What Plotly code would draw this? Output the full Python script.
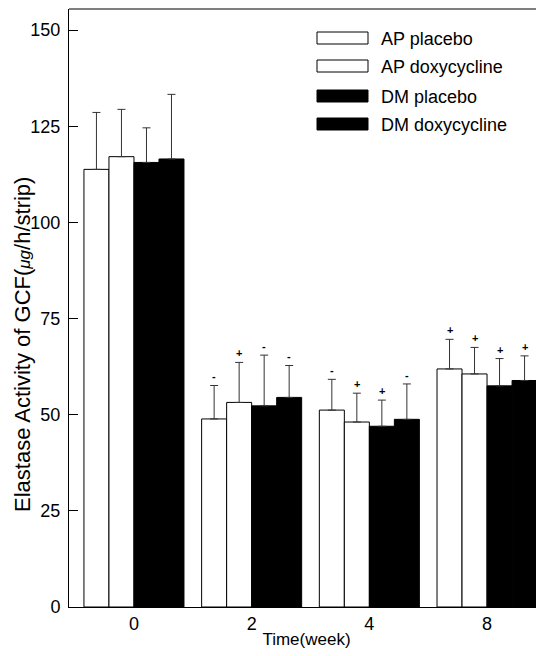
import plotly.graph_objects as go

weeks = ["0", "2", "4", "8"]
series_names = ["AP placebo", "AP doxycycline", "DM placebo", "DM doxycycline"]
ap_placebo = [113.8, 48.9, 51.2, 61.9]
ap_doxy = [117.1, 53.2, 48.1, 60.6]
dm_placebo = [115.6, 52.3, 47.0, 57.5]
dm_doxy = [116.5, 54.5, 48.8, 58.9]
ap_placebo_err = [14.8, 8.7, 8.0, 7.7]
ap_doxy_err = [12.3, 10.4, 7.5, 6.9]
dm_placebo_err = [9.0, 13.2, 6.8, 7.1]
dm_doxy_err = [16.8, 8.3, 9.2, 6.4]
ap_placebo_mark = ["", "-", "-", "+"]
ap_doxy_mark = ["", "+", "+", "+"]
dm_placebo_mark = ["", "-", "+", "+"]
dm_doxy_mark = ["", "-", "-", "+"]

values = [ap_placebo, ap_doxy, dm_placebo, dm_doxy]
errors = [ap_placebo_err, ap_doxy_err, dm_placebo_err, dm_doxy_err]
marks = [ap_placebo_mark, ap_doxy_mark, dm_placebo_mark, dm_doxy_mark]
fills = ["white", "white", "black", "black"]

FONT = "Liberation Sans, Arial, sans-serif"
OFF = 8  # page body margin
W, H = 544, 656
ML, MR, MT, MB = 61, 8, 1, 57
XRANGE = [-0.552, 3.484]
BARGAP = 0.15

fig = go.Figure()
for name, v, e, f in zip(series_names, values, errors, fills):
    fig.add_trace(go.Bar(
        x=weeks, y=v, name=name,
        marker=dict(color=f, line=dict(color="black", width=1)),
        error_y=dict(type="data", array=e, arrayminus=[0] * len(e), symmetric=False,
                     color="#333333", thickness=1, width=4),
        showlegend=False,
    ))

plot_w = W - ML - MR
plot_h = H - MT - MB
px_per_unit = plot_w / (XRANGE[1] - XRANGE[0])
bar_w = px_per_unit * (1 - BARGAP) / 4

# significance marks above error bars
annotations = []
for si, (v, e, m) in enumerate(zip(values, errors, marks)):
    shift = (si - 1.5) * bar_w
    for wi in range(len(weeks)):
        if m[wi]:
            annotations.append(dict(
                x=wi, y=v[wi] + e[wi], xref="x", yref="y", text="<b>%s</b>" % m[wi],
                showarrow=False, xshift=shift, yshift=9,
                font=dict(family=FONT, size=11, color="black")))


def px_x(x):
    return (x - OFF - ML) / plot_w


def px_y(y):
    return (H - MB - (y - OFF)) / plot_h


# legend (drawn manually: wide boxes)
shapes = []
leg_x0, leg_x1 = 317, 368
leg_rows = [38, 66, 96, 124]
for name, f, yc in zip(series_names, fills, leg_rows):
    shapes.append(dict(type="rect", xref="paper", yref="paper",
                       x0=px_x(leg_x0), x1=px_x(leg_x1),
                       y0=px_y(yc + 6), y1=px_y(yc - 6),
                       fillcolor=f, line=dict(color="black", width=1)))
    annotations.append(dict(x=px_x(379), y=px_y(yc + 1),
                            xref="paper", yref="paper", xanchor="left", yanchor="middle",
                            text=name, showarrow=False,
                            font=dict(family=FONT, size=18, color="black")))

# y-axis title
annotations.append(dict(x=px_x(22), y=px_y(345), xref="paper", yref="paper",
                        xanchor="center", yanchor="middle", textangle=-90, showarrow=False,
                        text="Elastase Activity of GCF(<span style='font-size:17px'><i>μg</i></span>/h/strip)",
                        font=dict(family=FONT, size=22, color="black")))

# top frame line
shapes.append(dict(type="line", xref="paper", yref="paper", x0=0, x1=1, y0=1, y1=1,
                   line=dict(color="black", width=1)))

fig.update_layout(
    width=W, height=H,
    margin=dict(l=ML, r=MR, t=MT, b=MB),
    plot_bgcolor="white", paper_bgcolor="white",
    barmode="group", bargap=BARGAP, bargroupgap=0,
    font=dict(family=FONT, color="black"),
    shapes=shapes, annotations=annotations,
    xaxis=dict(type="category", range=XRANGE, showline=True, linecolor="black", linewidth=1,
               ticks="", showgrid=False, tickfont=dict(size=18),
               title=dict(text="Time(week)", font=dict(size=17), standoff=0)),
    yaxis=dict(range=[0, 155.5], tickvals=[0, 25, 50, 75, 100, 125, 150],
               showline=True, linecolor="black", linewidth=1,
               ticks="inside", ticklen=9, tickcolor="black", showgrid=False,
               zeroline=False, tickfont=dict(size=18), ticklabelstandoff=4),
)

fig.write_html("out.html")
